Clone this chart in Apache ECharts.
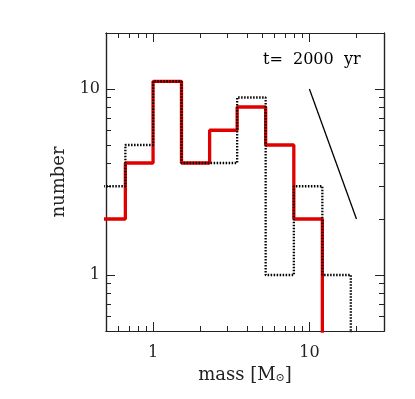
<!DOCTYPE html>
<html>
<head>
<meta charset="utf-8">
<script src="https://cdn.jsdelivr.net/npm/echarts@6/dist/echarts.min.js"></script>
<style>
  html, body { margin: 0; padding: 0; background: #fff; }
  #chart { width: 415px; height: 399px; }
</style>
</head>
<body>
<div id="chart"></div>
<script>
// bin edges (mass, Msun), log-spaced
const binEdges = [0.44, 0.665, 1.0, 1.52, 2.3, 3.45, 5.25, 7.95, 12.1, 18.4];
// red histogram (solid)
const redCounts = [2, 4, 11, 4, 6, 8, 5, 2];
// black dotted histogram
const dotCounts = [3, 5, 11, 4, 4, 9, 1, 3, 1];
// power-law guide line
const slopeLine = [[10, 10], [20, 2]];
const majorTicks = [1, 10];
const minorTicksX = [0.6, 0.7, 0.8, 0.9, 2, 3, 4, 5, 6, 7, 8, 9, 20];
const minorTicksY = [0.6, 0.7, 0.8, 0.9, 2, 3, 4, 5, 6, 7, 8, 9, 20];

const FONT = "DejaVu Serif";
const INK = "#222";

// histogram -> step points, ending with a drop below the axis
const toSteps = (counts) => {
  const pts = counts.map((c, i) => [binEdges[i], c]);
  const last = counts.length;
  pts.push([binEdges[last], counts[last - 1]]);
  pts.push([binEdges[last], 0.1]);
  return pts;
};

const myChart = echarts.init(document.getElementById("chart"));

const xBase = {
  type: "log",
  min: 0.5,
  max: 30,
  gridIndex: 0,
  splitLine: { show: false },
  axisLine: { show: true, onZero: false, lineStyle: { color: INK, width: 1.2 } },
};
const yBase = {
  type: "log",
  min: 0.5,
  max: 20,
  gridIndex: 0,
  splitLine: { show: false },
  axisLine: { show: true, onZero: false, lineStyle: { color: INK, width: 1.2 } },
};
const tick = (len, vals) => ({
  show: true,
  inside: true,
  length: len,
  customValues: vals,
  lineStyle: { color: INK, width: 1 },
});

const option = {
  animation: false,
  grid: { left: 106, right: 31, top: 33, bottom: 68 },
  xAxis: [
    {
      ...xBase,
      position: "bottom",
      axisTick: tick(9, majorTicks),
      axisLabel: {
        customValues: majorTicks,
        formatter: (v) => String(+(+v).toPrecision(3)),
        fontFamily: FONT,
        fontSize: 16,
        color: INK,
        margin: 14,
      },
      name: "mass [M{s|⊙}]",
      nameLocation: "middle",
      nameGap: 32,
      nameTextStyle: {
        fontFamily: FONT,
        fontSize: 18,
        color: INK,
        rich: {
          s: { fontFamily: FONT, fontSize: 11, color: INK, verticalAlign: "bottom", padding: [6, 0, 0, 0] },
        },
      },
    },
    { ...xBase, position: "bottom", axisTick: tick(5, minorTicksX), axisLabel: { show: false } },
    { ...xBase, position: "top", axisTick: tick(9, majorTicks), axisLabel: { show: false } },
    { ...xBase, position: "top", axisTick: tick(5, minorTicksX), axisLabel: { show: false } },
  ],
  yAxis: [
    {
      ...yBase,
      position: "left",
      axisTick: tick(9, majorTicks),
      axisLabel: {
        customValues: majorTicks,
        formatter: (v) => String(+(+v).toPrecision(3)),
        fontFamily: FONT,
        fontSize: 16,
        color: INK,
        margin: 6,
      },
      name: "number",
      nameLocation: "middle",
      nameGap: 38,
      nameTextStyle: { fontFamily: FONT, fontSize: 18, color: INK },
    },
    { ...yBase, position: "left", axisTick: tick(5, minorTicksY), axisLabel: { show: false } },
    { ...yBase, position: "right", axisTick: tick(9, majorTicks), axisLabel: { show: false } },
    { ...yBase, position: "right", axisTick: tick(5, minorTicksY), axisLabel: { show: false } },
  ],
  series: [
    {
      type: "line",
      step: "end",
      data: toSteps(redCounts),
      symbol: "none",
      clip: true,
      lineStyle: { color: "#e00000", width: 3.3 },
      z: 2,
    },
    {
      type: "line",
      step: "end",
      data: toSteps(dotCounts),
      symbol: "none",
      clip: true,
      lineStyle: { color: "#000", width: 2.3, type: [1.5, 1.5] },
      z: 3,
    },
    {
      type: "line",
      data: slopeLine,
      symbol: "none",
      lineStyle: { color: "#000", width: 1.3 },
      z: 3,
    },
  ],
  graphic: [
    {
      type: "text",
      left: 263,
      top: 52,
      style: { text: "t=  2000  yr", fontFamily: FONT, fontSize: 16, fill: "#000" },
    },
  ],
};

myChart.setOption(option);
</script>
</body>
</html>
